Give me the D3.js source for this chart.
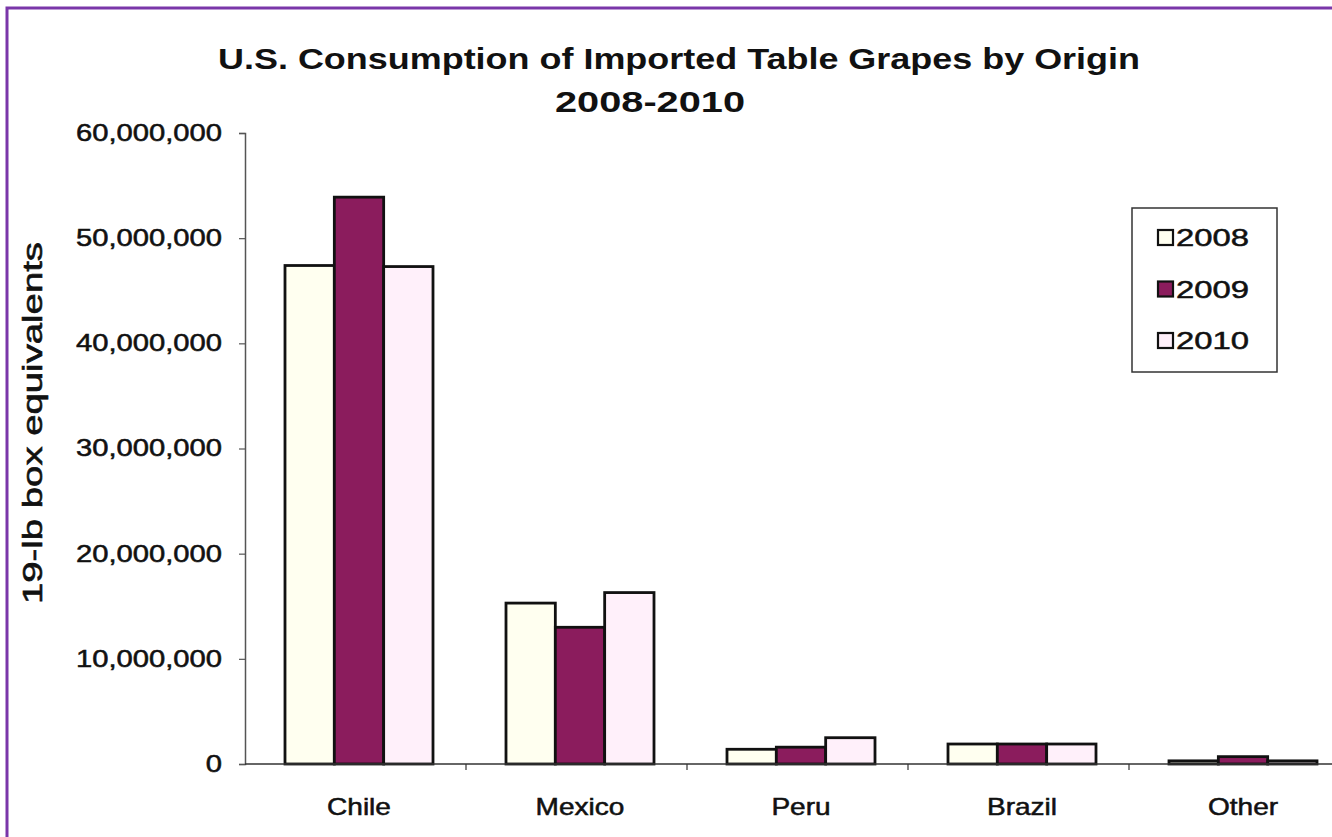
<!DOCTYPE html>
<html>
<head>
<meta charset="utf-8">
<script src="https://cdn.jsdelivr.net/npm/d3@7"></script>
<style>
  html, body { margin: 0; padding: 0; background: #fff; }
  svg { display: block; }
  text { font-family: "Liberation Sans", Arial, sans-serif; fill: #111; }
</style>
</head>
<body>
<svg id="chart" width="1332" height="837"></svg>
<script>
// Imported table grapes, 19-lb box equivalents
const categories = ["Chile", "Mexico", "Peru", "Brazil", "Other"];
const years = ["2008", "2009", "2010"];
const values2008 = [47400000, 15300000, 1400000, 1900000, 300000];
const values2009 = [53900000, 13000000, 1600000, 1900000, 700000];
const values2010 = [47300000, 16300000, 2500000, 1900000, 300000];
const yTicks = [0, 10000000, 20000000, 30000000, 40000000, 50000000, 60000000];

const seriesByYear = { "2008": values2008, "2009": values2009, "2010": values2010 };
const fills = { "2008": "#fffff0", "2009": "#8b1c5d", "2010": "#fff0fa" };

const svg = d3.select("#chart");

// outer frame
svg.append("rect")
  .attr("x", 7).attr("y", 8)
  .attr("width", 1340).attr("height", 850)
  .attr("fill", "#fff")
  .attr("stroke", "#7a36a9").attr("stroke-width", 3);

const plot = { left: 245, right: 1350, top: 133, bottom: 764 };

const y = d3.scaleLinear().domain([0, 60000000]).range([plot.bottom, plot.top]);

// one slot per origin, bars grouped inside each slot
const slot = d3.scaleBand().domain(categories).range([plot.left, plot.right]).padding(0);
const groupOffset = 40, groupWidth = 148;
const inner = d3.scaleBand().domain(years).range([0, groupWidth]).padding(0);

// bars
const groups = svg.append("g").selectAll("g")
  .data(categories)
  .join("g")
  .attr("transform", d => `translate(${slot(d) + groupOffset},0)`);

groups.selectAll("rect")
  .data((c, i) => years.map(yr => ({ year: yr, value: seriesByYear[yr][i] })))
  .join("rect")
  .attr("x", d => inner(d.year))
  .attr("width", inner.bandwidth())
  .attr("y", d => y(d.value))
  .attr("height", d => y(0) - y(d.value))
  .attr("fill", d => fills[d.year])
  .attr("stroke", "#111")
  .attr("stroke-width", 2.8);

// y axis
const sx = 1.27;
const yAxis = svg.append("g")
  .attr("transform", `translate(${plot.left},0)`)
  .call(d3.axisLeft(y).tickValues(yTicks).tickSize(6).tickFormat(d3.format(",")));
yAxis.select(".domain").attr("stroke", "#555").attr("stroke-width", 1.5);
yAxis.selectAll(".tick line").attr("stroke", "#555").attr("stroke-width", 1.2);
yAxis.selectAll(".tick text")
  .attr("font-size", 23)
  .attr("font-family", "Liberation Sans, Arial, sans-serif")
  .attr("fill", "#111")
  .attr("stroke", "#111").attr("stroke-width", 0.5)
  .attr("x", -23 / sx)
  .attr("transform", `scale(${sx},1)`);

// x axis line with boundary ticks
svg.append("line")
  .attr("x1", plot.left).attr("x2", 1332)
  .attr("y1", y(0)).attr("y2", y(0))
  .attr("stroke", "#333").attr("stroke-width", 1.5);
const boundaries = categories.slice(1).map(c => slot(c));
svg.append("g").selectAll("line")
  .data(boundaries)
  .join("line")
  .attr("x1", d => d).attr("x2", d => d)
  .attr("y1", y(0)).attr("y2", y(0) + 6)
  .attr("stroke", "#333").attr("stroke-width", 1.2);

// category labels
svg.append("g").selectAll("text")
  .data(categories)
  .join("text")
  .attr("transform", d => `translate(${slot(d) + groupOffset + groupWidth / 2},815) scale(1.22,1)`)
  .attr("text-anchor", "middle")
  .attr("font-size", 23)
  .attr("stroke", "#111").attr("stroke-width", 0.5)
  .text(d => d);

// titles
svg.append("text")
  .attr("x", 679).attr("y", 69)
  .attr("text-anchor", "middle")
  .attr("font-size", 29).attr("font-weight", "bold")
  .attr("textLength", 922).attr("lengthAdjust", "spacingAndGlyphs")
  .text("U.S. Consumption of Imported Table Grapes by Origin");
svg.append("text")
  .attr("x", 650).attr("y", 112)
  .attr("text-anchor", "middle")
  .attr("font-size", 29).attr("font-weight", "bold")
  .attr("textLength", 190).attr("lengthAdjust", "spacingAndGlyphs")
  .text("2008-2010");

// y axis title
svg.append("text")
  .attr("transform", "translate(42,423) rotate(-90)")
  .attr("text-anchor", "middle")
  .attr("font-size", 27)
  .attr("stroke", "#111").attr("stroke-width", 0.6)
  .attr("textLength", 362).attr("lengthAdjust", "spacingAndGlyphs")
  .text("19-lb box equivalents");

// legend
const legend = svg.append("g").attr("transform", "translate(1132,208)");
legend.append("rect")
  .attr("width", 145).attr("height", 164)
  .attr("fill", "#fff")
  .attr("stroke", "#333").attr("stroke-width", 1.5);
const rowY = d3.scalePoint().domain(years).range([29, 132]);
const items = legend.selectAll("g.item")
  .data(years)
  .join("g")
  .attr("class", "item")
  .attr("transform", d => `translate(0,${rowY(d)})`);
items.append("rect")
  .attr("x", 26).attr("y", -7)
  .attr("width", 15).attr("height", 15)
  .attr("fill", d => fills[d])
  .attr("stroke", "#111").attr("stroke-width", 2.2);
items.append("text")
  .attr("x", 44).attr("y", 9)
  .attr("font-size", 24)
  .attr("stroke", "#111").attr("stroke-width", 0.5)
  .attr("textLength", 73).attr("lengthAdjust", "spacingAndGlyphs")
  .text(d => d);
</script>
</body>
</html>
